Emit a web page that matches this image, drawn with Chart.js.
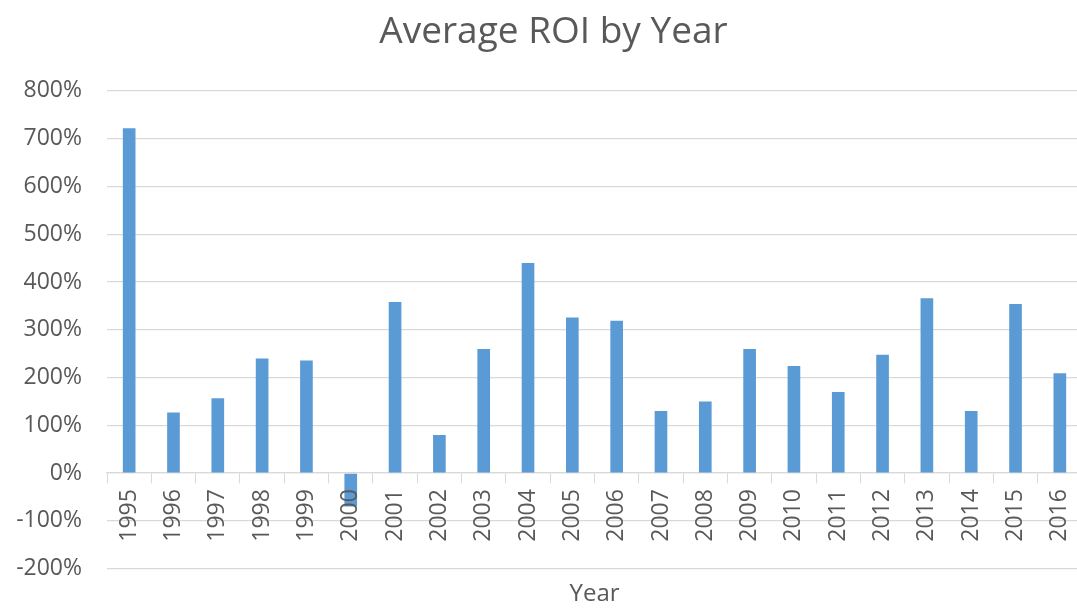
<!DOCTYPE html>
<html>
<head>
<meta charset="utf-8">
<title>Average ROI by Year</title>
<script src="https://cdn.jsdelivr.net/npm/chart.js@4.4.1/dist/chart.umd.min.js"></script>
<style>
  html, body { margin: 0; padding: 0; background: #ffffff; overflow: hidden; }
  #wrap { position: relative; width: 1094px; height: 609px; }
</style>
</head>
<body>
<div id="wrap"><canvas id="roiChart"></canvas></div>
<script>
// Category axis: one bar per year
const years = ['1995', '1996', '1997', '1998', '1999', '2000', '2001', '2002', '2003', '2004', '2005',
               '2006', '2007', '2008', '2009', '2010', '2011', '2012', '2013', '2014', '2015', '2016'];

// Average return on investment for each year, in percent
const avgRoi = [722, 127, 157, 240, 236, -70, 358, 80, 260, 440, 326,
                319, 130, 150, 260, 224, 170, 248, 366, 130, 354, 209];

// Value axis range and tick spacing, in percent
const roiAxisMin = -200;
const roiAxisMax = 800;
const roiAxisStep = 100;

const TEXT_GREY = '#595959';
const LINE_GREY = '#d9d9d9';
const BAR_BLUE = '#5b9bd5';
const FONT = 'Open Sans';

// The value-axis labels are allowed to run into the left layout padding,
// so widen the axis' label clip box back to the canvas edge after layout.
const valueLabelRoom = {
  id: 'valueLabelRoom',
  afterLayout(chart) {
    chart.scales.y.left = 0;
  }
};

new Chart(document.getElementById('roiChart'), {
  type: 'bar',
  data: {
    labels: years,
    datasets: [{
      label: 'Average ROI',
      data: avgRoi,
      backgroundColor: BAR_BLUE,
      borderWidth: 0,
      barPercentage: 0.2857,
      categoryPercentage: 1
    }]
  },
  plugins: [valueLabelRoom],
  options: {
    responsive: true,
    maintainAspectRatio: false,
    animation: false,
    layout: { padding: { left: 25, right: 12, top: 0, bottom: 0 } },
    plugins: {
      legend: { display: false },
      tooltip: { enabled: false },
      title: {
        display: true,
        text: 'Average ROI by Year',
        color: TEXT_GREY,
        font: { family: FONT, size: 37, weight: 'normal' },
        padding: { top: 10, bottom: 36.5 }
      },
      subtitle: {
        display: true,
        position: 'bottom',
        fullSize: false,
        text: 'Year',
        color: TEXT_GREY,
        font: { family: FONT, size: 24, weight: 'normal' },
        padding: { top: 11.5, bottom: 0 }
      }
    },
    scales: {
      x: {
        position: { y: 0 },
        grid: {
          drawOnChartArea: false,
          drawTicks: true,
          tickLength: 10,
          color: LINE_GREY,
          offset: true
        },
        border: { display: true, color: LINE_GREY, width: 1.3 },
        ticks: {
          minRotation: 90,
          maxRotation: 90,
          autoSkip: false,
          padding: 6,
          color: TEXT_GREY,
          font: { family: FONT, size: 23 },
          z: 1
        }
      },
      y: {
        min: roiAxisMin,
        max: roiAxisMax,
        grid: { color: LINE_GREY, lineWidth: 1.3, drawTicks: false },
        border: { display: false },
        ticks: {
          stepSize: roiAxisStep,
          padding: 25,
          color: TEXT_GREY,
          font: { family: FONT, size: 23 },
          callback: (v) => v + '%'
        },
        afterFit: (scale) => { scale.width = 82; }
      }
    }
  }
});
</script>
</body>
</html>
